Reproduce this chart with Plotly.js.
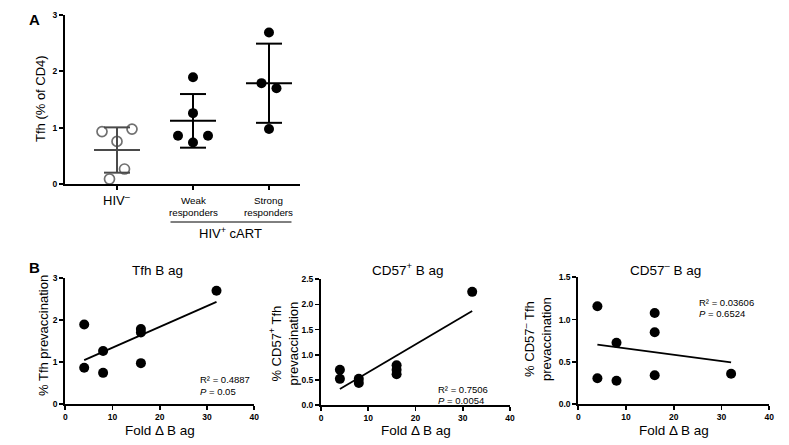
<!DOCTYPE html>
<html><head><meta charset="utf-8">
<script src="https://cdn.plot.ly/plotly-3.0.1.min.js"></script>
<style>html,body{margin:0;padding:0;background:#fff}#chart{width:789px;height:445px}</style>
</head><body><div id="chart"></div>
<script>
// ---------- DATA ----------
const groupLabels = ["HIV<sup>–</sup>", "Weak<br>responders", "Strong<br>responders"];
const hivNeg = [0.93, 0.756, 0.975, 0.089, 0.266];
const weakResp = [1.896, 1.258, 0.856, 0.738, 0.856];
const strongResp = [2.69, 1.79, 1.70, 0.975];
const bracketLabel = "HIV<sup>+</sup> cART";
const yTitleA = "Tfh (% of CD4)";
const yTicksA = [0, 1, 2, 3];

const foldB = [4, 4, 8, 8, 16, 16, 16, 32];
const tfhPre = [1.89, 0.86, 1.26, 0.74, 1.78, 1.70, 0.97, 2.69];
const cd57PosPre = [0.70, 0.52, 0.52, 0.44, 0.79, 0.70, 0.61, 2.25];
const cd57NegPre = [1.157, 0.304, 0.726, 0.276, 1.078, 0.849, 0.34, 0.359];
const panelTitles = ["Tfh B ag", "CD57<sup>+</sup> B ag", "CD57<sup>–</sup> B ag"];
const yTitlesB = ["% Tfh prevaccination", "% CD57<sup>+</sup> Tfh<br>prevaccination", "% CD57<sup>–</sup> Tfh<br>prevaccination"];
const xTitleB = "Fold Δ B ag";
const xTicksB = [0, 10, 20, 30, 40];
const yTicksB1 = [0, 1, 2, 3];
const yTicksB2 = [0, 0.5, 1.0, 1.5, 2.0, 2.5];
const yTicksB3 = [0, 0.5, 1.0, 1.5];
const rSquared = ["0.4887", "0.7506", "0.03606"];
const pValues = ["0.05", "0.0054", "0.6524"];

// ---------- LAYOUT HELPERS ----------
const W = 789, H = 445;
const FONT = 'Liberation Sans, Arial, Helvetica, sans-serif';
const px = p => p / W, py = p => 1 - p / H;
const domX = (a, b) => [a / W, b / W];
const domY = (top, bottom) => [1 - bottom / H, 1 - top / H];

const xRangeA = [0.3158, 3.408];
const aPix = {x0: 65, x1: 300, top: 15, bottom: 184};
const pxPerXA = (aPix.x1 - aPix.x0) / (xRangeA[1] - xRangeA[0]);
const pxPerYA = (aPix.bottom - aPix.top) / 3;

const mean = a => a.reduce((s, v) => s + v, 0) / a.length;
const sd = a => { const m = mean(a); return Math.sqrt(a.reduce((s, v) => s + (v - m) * (v - m), 0) / (a.length - 1)); };

// deterministic swarm layout (rows of near-equal values spread sideways)
function swarm(vals, xc) {
  const ROWGAP = 13, STEP = 15;
  const order = vals.map((v, i) => i).sort((a, b) => vals[b] - vals[a]);
  const rows = [];
  order.forEach(i => {
    const last = rows[rows.length - 1];
    if (last && (vals[last[0]] - vals[i]) * pxPerYA < ROWGAP) last.push(i); else rows.push([i]);
  });
  const xs = new Array(vals.length);
  rows.forEach(r => {
    r.sort((a, b) => a - b);
    r.forEach((i, k) => { xs[i] = xc + (k - (r.length - 1) / 2) * STEP / pxPerXA; });
  });
  return xs;
}

function meanSdLines(vals, xc) {
  const m = mean(vals), s = sd(vals);
  const hw = 23 / pxPerXA, cw = 13 / pxPerXA;
  return {
    x: [xc - hw, xc + hw, null, xc, xc, null, xc - cw, xc + cw, null, xc - cw, xc + cw],
    y: [m, m, null, m - s, m + s, null, m + s, m + s, null, m - s, m - s]
  };
}

function linfit(x, y) {
  const mx = mean(x), my = mean(y);
  let sxy = 0, sxx = 0;
  x.forEach((v, i) => { sxy += (v - mx) * (y[i] - my); sxx += (v - mx) * (v - mx); });
  const b = sxy / sxx, a = my - b * mx;
  const x0 = Math.min(...x), x1 = Math.max(...x);
  return {x: [x0, x1], y: [a + b * x0, a + b * x1]};
}

const groups = [hivNeg, weakResp, strongResp];
const traces = [];
groups.forEach((g, gi) => {
  const xc = gi + 1;
  const open = gi === 0;
  traces.push({
    type: 'scatter', mode: 'markers', xaxis: 'x', yaxis: 'y', cliponaxis: false,
    x: swarm(g, xc), y: g, hoverinfo: 'skip',
    marker: open ? {symbol: 'circle-open', size: 10, color: '#707070', line: {width: 1.7}}
                 : {symbol: 'circle', size: 10, color: '#000'}
  });
  const l = meanSdLines(g, xc);
  traces.push({
    type: 'scatter', mode: 'lines', xaxis: 'x', yaxis: 'y', cliponaxis: false,
    x: l.x, y: l.y, hoverinfo: 'skip',
    line: {color: open ? '#4a4a4a' : '#000', width: 2}
  });
});

const bSets = [tfhPre, cd57PosPre, cd57NegPre];
bSets.forEach((ys, i) => {
  const ax = String(i + 2);
  traces.push({
    type: 'scatter', mode: 'markers', xaxis: 'x' + ax, yaxis: 'y' + ax, cliponaxis: false,
    x: foldB, y: ys, hoverinfo: 'skip', marker: {size: 10, color: '#000'}
  });
  const f = linfit(foldB, ys);
  traces.push({
    type: 'scatter', mode: 'lines', xaxis: 'x' + ax, yaxis: 'y' + ax, cliponaxis: false,
    x: f.x, y: f.y, hoverinfo: 'skip', line: {color: '#000', width: 1.8}
  });
});

function axis(extra) {
  return Object.assign({
    showgrid: false, zeroline: false, showline: true, linecolor: '#000', linewidth: 2,
    ticks: 'outside', ticklen: 4, tickwidth: 1.8, tickcolor: '#000',
    tickfont: {family: FONT, size: 8.5, color: '#000', weight: 'bold'}, fixedrange: true
  }, extra);
}

const bX = [[65.3, 254.3], [321, 510], [578.3, 769.3]];
const bY = [[277.7, 404], [279.3, 405], [277.3, 404]];
const bYR = [[0, 3], [0, 2.5], [0, 1.5]];
const bYT = [yTicksB1, yTicksB2, yTicksB3];
const bYF = ['d', '.1f', '.1f'];

const layout = {
  width: W, height: H, autosize: false, showlegend: false,
  margin: {l: 0, r: 0, t: 0, b: 0, pad: 0},
  paper_bgcolor: '#fff', plot_bgcolor: 'rgba(0,0,0,0)',
  font: {family: FONT, color: '#000'},
  xaxis: axis({domain: domX(aPix.x0, aPix.x1), range: xRangeA, tickvals: [1, 2, 3], showticklabels: false, anchor: 'y'}),
  yaxis: axis({domain: domY(aPix.top, aPix.bottom), range: [0, 3], tickvals: yTicksA, anchor: 'x'}),
  annotations: [], shapes: []
};
for (let i = 0; i < 3; i++) {
  const ax = i + 2;
  layout['xaxis' + ax] = axis({domain: domX(bX[i][0], bX[i][1]), range: [0, 40], tickvals: xTicksB, anchor: 'y' + ax});
  layout['yaxis' + ax] = axis({domain: domY(bY[i][0], bY[i][1]), range: bYR[i], tickvals: bYT[i], tickformat: bYF[i], anchor: 'x' + ax});
}

const ann = layout.annotations;
const txt = (text, x, y, size, o) => Object.assign({
  text, x: px(x), y: py(y), xref: 'paper', yref: 'paper', showarrow: false,
  xanchor: 'center', yanchor: 'middle', font: {family: FONT, size, color: '#000'}
}, o || {});

// Panel A texts
ann.push(txt('<b>A</b>', 34, 19, 15));
ann.push(txt(yTitleA, 40, 99, 13, {textangle: -90}));
groupLabels.forEach((lab, i) => {
  const lines = lab.split('<br>');
  if (lines.length === 1) {
    ann.push({text: lines[0], x: i + 1, xref: 'x', y: py(199.5), yref: 'paper', showarrow: false,
      xanchor: 'center', yanchor: 'middle', font: {family: FONT, size: 13, color: '#000'}});
  } else {
    lines.forEach((ln, k) => ann.push({text: ln, x: i + 1, xref: 'x', y: py(200.5 + k * 11.5), yref: 'paper', showarrow: false,
      xanchor: 'center', yanchor: 'middle', font: {family: FONT, size: 9.8, color: '#000'}}));
  }
});
ann.push({text: bracketLabel, x: 2.5, xref: 'x', y: py(233), yref: 'paper', showarrow: false,
  xanchor: 'center', yanchor: 'middle', font: {family: FONT, size: 13, color: '#000'}});
layout.shapes.push({type: 'line', xref: 'x', yref: 'paper', x0: 2.5 - 0.796, x1: 2.5 + 0.796,
  y0: py(222), y1: py(222), line: {color: '#000', width: 1}});

// Panel B texts
ann.push(txt('<b>B</b>', 34, 267, 15));
const titlePos = [[157, 270], [408, 269], [665, 269]];
const yTitlePos = [[43, 336], [283.5, 344], [537, 339]];
const statPos = [[198, 379.5], [435.7, 389], [696.7, 302]];
for (let i = 0; i < 3; i++) {
  ann.push(txt(panelTitles[i], titlePos[i][0], titlePos[i][1], 13.5));
  ann.push(txt(yTitlesB[i], yTitlePos[i][0], yTitlePos[i][1], 13, {textangle: -90}));
  ann.push(txt(xTitleB, (bX[i][0] + bX[i][1]) / 2, 430, 13.5));
  ann.push(txt('R² = ' + rSquared[i], statPos[i][0], statPos[i][1], 9.5, {xanchor: 'left'}));
  ann.push(txt('<i>P</i> = ' + pValues[i], statPos[i][0], statPos[i][1] + 11.5, 9.5, {xanchor: 'left'}));
}

Plotly.newPlot('chart', traces, layout, {staticPlot: true, displayModeBar: false});
</script>
</body></html>
